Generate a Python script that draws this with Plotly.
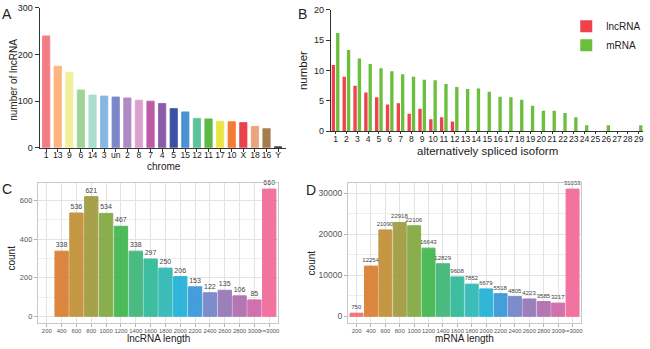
import plotly.graph_objects as go

W, H = 650, 349
FONT = "Arial, Liberation Sans, sans-serif"

# Panel A
chrom = ["1", "13", "9", "6", "14", "3", "un", "2", "8", "7", "4", "5", "15", "12", "11", "17", "10", "X", "18", "16", "Y"]
chrom_counts = [240, 175, 162, 124, 113, 111, 109, 107, 102, 100, 95, 84, 77, 63, 62, 57, 56, 54, 46, 41, 2]
chrom_colors = ["#F47C85", "#FDB47E", "#F2EF9A", "#9ED49A", "#A9DDCC", "#86B6E2", "#7B87C9", "#AE8BC6",
                "#DCA0CC", "#BB5CA5", "#8B5AA8", "#3E50A2", "#4C92D2", "#5DC19B", "#5DB944", "#EBE445",
                "#F47B34", "#E8424A", "#EBA57E", "#A87B4E", "#1F1F1F"]

# Panel B
isoforms = list(range(1, 30))
iso_lnc = [10.9, 9.0, 7.5, 6.4, 5.6, 4.4, 4.6, 2.9, 3.7, 2.0, 2.3, 1.6] + [0] * 17
iso_mrna = [16.2, 13.4, 12.0, 11.1, 10.4, 9.9, 9.4, 9.0, 8.5, 8.4, 7.8, 7.3, 6.95, 7.05, 6.5, 5.7,
            5.6, 5.2, 4.2, 3.4, 3.4, 3.0, 2.3, 1.0, 0, 1.0, 0, 0, 1.0]

# Panels C and D
length_bins = ["200", "400", "600", "800", "1000", "1200", "1400", "1600", "1800", "2000",
               "2200", "2400", "2600", "2800", "3000", ">=3000"]
lnc_len = [None, 338, 536, 621, 534, 467, 338, 297, 250, 206, 153, 122, 135, 106, 85, 660]
mrna_len = [750, 12254, 21090, 22918, 22106, 16643, 12829, 9608, 7852, 6679, 5518, 4805, 4223, 3585, 3217, 31053]
len_colors = ["#EE6B6E", "#D97D2F", "#C18F34", "#A09A3C", "#80A83F", "#3EB64B", "#3DB677", "#2EB898",
              "#2DB8B5", "#1FB0D6", "#3596D8", "#7283C6", "#9476B7", "#AE6CAC", "#CF66A8", "#F06898"]


def px(x):
    return x / W


def py(y):
    return 1 - y / H


fig = go.Figure()

# A
fig.add_trace(go.Bar(x=list(range(len(chrom))), y=chrom_counts, width=0.63,
                     marker=dict(color=chrom_colors, line=dict(color=chrom_colors, width=0.8)),
                     xaxis="x", yaxis="y", showlegend=False))

# B
fig.add_trace(go.Bar(x=isoforms, y=iso_lnc, name="lncRNA", width=0.31, offset=-0.36,
                     marker=dict(color="#F0424A", line=dict(width=0)), xaxis="x2", yaxis="y2"))
fig.add_trace(go.Bar(x=isoforms, y=iso_mrna, name="mRNA", width=0.31, offset=0.04,
                     marker=dict(color="#6CBF3E", line=dict(width=0)), xaxis="x2", yaxis="y2"))

# C
fig.add_trace(go.Bar(x=length_bins, y=lnc_len, width=0.9,
                     marker=dict(color=len_colors, line=dict(color=len_colors, width=1), opacity=0.92),
                     text=[("" if v is None else str(v)) for v in lnc_len], textposition="outside",
                     constraintext="none",
                     textfont=dict(size=7, color="#444"), cliponaxis=False,
                     xaxis="x3", yaxis="y3", showlegend=False))

# D
fig.add_trace(go.Bar(x=length_bins, y=mrna_len, width=0.9,
                     marker=dict(color=len_colors, line=dict(color=len_colors, width=1), opacity=0.92),
                     text=[str(v) for v in mrna_len], textposition="outside",
                     constraintext="none",
                     textfont=dict(size=6, color="#444"), cliponaxis=False,
                     xaxis="x4", yaxis="y4", showlegend=False))

blk = "#333333"
axA = dict(showline=True, linecolor=blk, linewidth=1.4, ticks="outside", ticklen=4, tickwidth=1.2,
           tickcolor=blk, tickfont=dict(size=9, color="#222"), showgrid=False, zeroline=False)

gg_grid = "#e3e3e3"
ggx = dict(showline=True, mirror=True, linecolor="#c8c8c8", linewidth=1, ticks="outside", ticklen=3,
           tickwidth=0.8, tickcolor="#b3b3b3", tickfont=dict(size=5.9, color="#555"),
           showgrid=True, gridcolor=gg_grid, gridwidth=0.8, zeroline=False)

fig.update_layout(
    width=W, height=H, margin=dict(l=0, r=0, t=0, b=0),
    paper_bgcolor="white", plot_bgcolor="white",
    font=dict(family=FONT, color="#222"),
    barmode="overlay",
    xaxis=dict(axA, domain=[px(40), px(287)], range=[-0.54, 20.69], tickangle=0, ticklen=3,
               ticklabelstandoff=-4, tickfont=dict(size=8.6, color="#222"),
               tickvals=list(range(len(chrom))), ticktext=chrom, anchor="y"),
    yaxis=dict(axA, domain=[py(147), py(3)], range=[0, 300], tickvals=[0, 100, 200, 300], anchor="x"),
    xaxis2=dict(axA, domain=[px(332), px(645)], range=[0.57, 29.4], tickvals=isoforms, ticklen=2,
                ticklabelstandoff=-3,
                tickangle=0, tickfont=dict(size=8.6, color="#222"), anchor="y2"),
    yaxis2=dict(axA, domain=[py(130), py(5)], range=[0, 20], tickvals=[0, 5, 10, 15, 20], anchor="x2"),
    xaxis3=dict(ggx, domain=[px(38), px(279)], range=[-0.6, 15.6], type="category", tickangle=0,
                ticklabelstandoff=-1,
                categoryorder="array", categoryarray=length_bins, anchor="y3"),
    yaxis3=dict(ggx, domain=[py(327), py(183)], range=[-33, 693], tickvals=[0, 200, 400, 600],
                tickfont=dict(size=7.5, color="#555"),
                minor=dict(tickvals=[100, 300, 500], showgrid=True, gridcolor="#efefef", gridwidth=0.5, ticks=""),
                anchor="x3"),
    xaxis4=dict(ggx, domain=[px(349), px(583)], range=[-0.6, 15.6], type="category", tickangle=0,
                ticklabelstandoff=-1,
                categoryorder="array", categoryarray=length_bins, anchor="y4"),
    yaxis4=dict(ggx, domain=[py(327), py(183)], range=[-1553, 32606], tickvals=[0, 10000, 20000, 30000],
                tickformat="d", tickfont=dict(size=8.5, color="#555"),
                minor=dict(tickvals=[5000, 15000, 25000], showgrid=True, gridcolor="#efefef", gridwidth=0.5, ticks=""),
                anchor="x4"),
    legend=dict(x=px(568), y=py(7), xanchor="left", yanchor="top", bgcolor="rgba(0,0,0,0)",
                font=dict(size=10, color="#222"), tracegroupgap=0, itemwidth=30),
)

ann = []


def add_text(x, y, text, size, angle=0, color="#222"):
    ann.append(dict(x=px(x), y=py(y), xref="paper", yref="paper", text=text, showarrow=False,
                    font=dict(size=size, color=color, family=FONT), textangle=angle,
                    xanchor="center", yanchor="middle"))


# panel letters
add_text(7, 9, "A", 14)
add_text(303, 9, "B", 14)
add_text(7, 189, "C", 14)
add_text(312, 190, "D", 14)
# axis titles
add_text(165, 166, "chrome", 10)
add_text(14, 77, "number of lncRNA", 10, -90)
add_text(489, 150, "alternatively spliced isoform", 11.5)
add_text(304, 68, "number", 11.5, -90)
add_text(159, 343, "lncRNA length", 10)
add_text(12, 260, "count", 10, -90)
add_text(466, 343, "mRNA length", 10)
add_text(312, 266, "count", 10, -90)

fig.update_layout(annotations=ann)
fig.write_html("out.html", config={"displayModeBar": False},
               post_script="document.body.style.margin='0';document.body.style.overflow='hidden';")
